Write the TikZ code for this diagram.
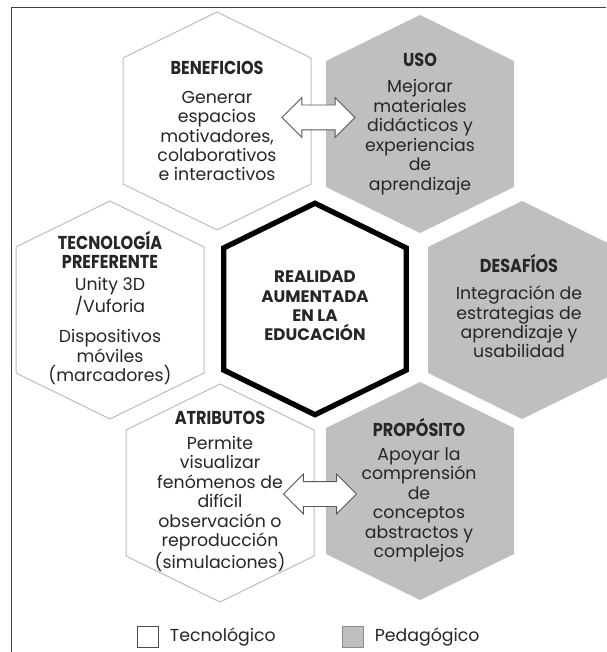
\documentclass[tikz,border=0pt]{standalone}
\usepackage{fontspec}
\setmainfont{Poppins}
\newfontfamily\titlefont{Poppins}[FakeStretch=0.86]
\usetikzlibrary{shapes.arrows,positioning,calc}

\definecolor{pedgray}{HTML}{BFBFBF}
\definecolor{hexline}{HTML}{BDBDBD}
\definecolor{inkgray}{HTML}{262626}
\definecolor{arrowline}{HTML}{595959}

\tikzset{
  hexcell/.pic={\path[pic actions] (0,-109) -- (94,-63) -- (94,63) -- (0,109) -- (-94,63) -- (-94,-63) -- cycle;},
  teccell/.style={draw=hexline, line width=0.75pt, fill=white},
  pedcell/.style={fill=pedgray},
  corecell/.style={draw=black, line width=4pt, fill=white, miter limit=4},
  bodytext/.style={align=center, text=inkgray, inner sep=1pt, font=\fontsize{13}{14.6}\selectfont},
  titletext/.style={align=center, text=inkgray, inner sep=1pt, font=\titlefont\bfseries\fontsize{14}{14.6}\selectfont},
  swaparrow/.style={double arrow, draw=arrowline, fill=white, line width=0.6pt, inner xsep=0pt, inner ysep=9pt,
    minimum height=54.75pt, double arrow head extend=5.6pt},
  legbox/.style={minimum size=15.75pt, inner sep=0pt, line width=0.75pt},
}

\begin{document}
\begin{tikzpicture}[x=0.75pt, y=-0.75pt]
  \useasboundingbox (0,0) rectangle (606,652);

  % Frame
  \draw[draw=black!75, line width=0.75pt] (11,652) -- (11,8) -- (606,8);

  % Cell centres
  \coordinate (ben) at (217,121);
  \coordinate (uso) at (420,124);
  \coordinate (tec) at (110,310);
  \coordinate (ctr) at (315,309);
  \coordinate (des) at (522,310);
  \coordinate (atr) at (220,493);
  \coordinate (prop) at (420,491);

  % Hexagons
  \pic[teccell] at (ben) {hexcell};
  \pic[pedcell] at (uso) {hexcell};
  \pic[teccell] at (tec) {hexcell};
  \pic[pedcell] at (des) {hexcell};
  \pic[teccell] at (atr) {hexcell};
  \pic[pedcell] at (prop) {hexcell};
  \pic[corecell, scale=0.97] at (ctr) {hexcell};

  % Texts
  \node[titletext] (benT) at (217,68) {BENEFICIOS};
  \node[bodytext] (benB) at (217,136) {Generar\\espacios\\motivadores,\\colaborativos\\e interactivos};

  \node[titletext] (usoT) at (420,60) {USO};
  \node[bodytext] (usoB) at (420,137) {Mejorar\\materiales\\didácticos y\\experiencias\\de\\aprendizaje};

  \node[titletext] (tecT) at (110,250) {TECNOLOGÍA\\PREFERENTE};
  \node[bodytext] (tecB) at (110,331) {Unity 3D\\/Vuforia\\[8pt]Dispositivos\\móviles\\(marcadores)};

  \node[titletext, font=\bfseries\fontsize{12.5}{14.6}\selectfont] (ctrT) at (315,306) {REALIDAD\\AUMENTADA\\EN LA\\EDUCACIÓN};

  \node[titletext] (desT) at (519,263) {DESAFÍOS};
  \node[bodytext] (desB) at (519,322) {Integración de\\estrategias de\\aprendizaje y\\usabilidad};

  \node[titletext, fill=white] (atrT) at (220,418) {ATRIBUTOS};
  \node[bodytext] (atrB) at (220,504) {Permite\\visualizar\\fenómenos de\\difícil\\observación o\\reproducción\\(simulaciones)};

  \node[titletext] (propT) at (419,427) {PROPÓSITO};
  \node[bodytext] (propB) at (419,505) {Apoyar la\\comprensión\\de\\conceptos\\abstractos y\\complejos};

  % Arrows between cells
  \node[swaparrow] (topSwap) at ($(ben)!0.5!(uso) + (0,-5)$) {};
  \node[swaparrow] (lowSwap) at ($(atr)!0.5!(prop) + (0,2)$) {};

  % Legend
  \node[legbox, draw=black!70, fill=white] (legTec) at (148,637) {};
  \node[bodytext, anchor=west, right=7pt of legTec] (legTecT) {Tecnológico};
  \node[legbox, draw=black!45, fill=pedgray] (legPed) at (353,637) {};
  \node[bodytext, anchor=west, right=7pt of legPed] (legPedT) {Pedagógico};
\end{tikzpicture}
\end{document}
